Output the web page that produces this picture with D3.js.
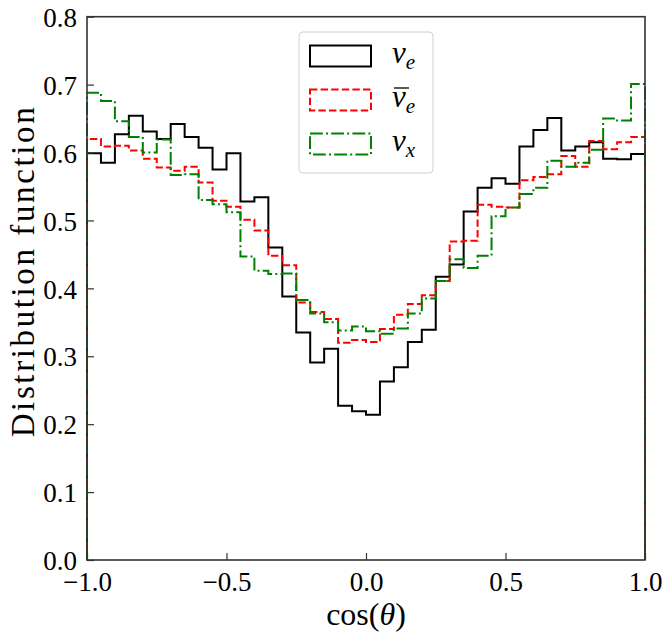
<!DOCTYPE html>
<html>
<head>
<meta charset="utf-8">
<script src="https://cdn.jsdelivr.net/npm/d3@7"></script>
<style>
  body { margin: 0; background: #fff; }
</style>
</head>
<body>
<div id="chart"></div>
<script>
// 40 bins over cos(theta) in [-1, 1]
const binStart = -1;
const binWidth = 0.05;

const nuE = [
  0.599, 0.585, 0.627, 0.654, 0.631, 0.620, 0.642, 0.623, 0.607, 0.575,
  0.599, 0.528, 0.534, 0.460, 0.388, 0.335, 0.291, 0.311, 0.227, 0.219,
  0.214, 0.263, 0.284, 0.321, 0.339, 0.417, 0.435, 0.513, 0.548, 0.562,
  0.554, 0.609, 0.633, 0.651, 0.603, 0.609, 0.615, 0.591, 0.590, 0.598
];
const nuEBar = [
  0.620, 0.609, 0.610, 0.603, 0.591, 0.578, 0.573, 0.579, 0.556, 0.529,
  0.520, 0.501, 0.485, 0.448, 0.434, 0.379, 0.365, 0.355, 0.320, 0.324,
  0.321, 0.340, 0.361, 0.377, 0.390, 0.411, 0.469, 0.470, 0.523, 0.520,
  0.519, 0.559, 0.564, 0.568, 0.595, 0.579, 0.617, 0.605, 0.615, 0.623
];
const nuX = [
  0.688, 0.676, 0.646, 0.623, 0.600, 0.619, 0.567, 0.568, 0.530, 0.524,
  0.512, 0.447, 0.426, 0.421, 0.422, 0.383, 0.363, 0.350, 0.338, 0.344,
  0.337, 0.333, 0.341, 0.363, 0.385, 0.411, 0.443, 0.430, 0.448, 0.506,
  0.519, 0.539, 0.548, 0.588, 0.579, 0.585, 0.604, 0.650, 0.647, 0.701
];

const xTicks = [-1.0, -0.5, 0.0, 0.5, 1.0];
const yTicks = [0.0, 0.1, 0.2, 0.3, 0.4, 0.5, 0.6, 0.7, 0.8];

const series = [
  { name: "nuE", values: nuE, color: "#000000", dash: null },
  { name: "nuEBar", values: nuEBar, color: "#ff0000", dash: "7.4,3.2" },
  { name: "nuX", values: nuX, color: "#008000", dash: "12.8,3.2,2,3.2" }
];

const serif = "Liberation Serif, Times New Roman, Times";

const width = 669, height = 642;
const margin = { top: 16.7, right: 24, bottom: 82, left: 87 };

const svg = d3.select("#chart").append("svg")
  .attr("width", width)
  .attr("height", height);

const x = d3.scaleLinear().domain([-1, 1]).range([margin.left, width - margin.right]);
const y = d3.scaleLinear().domain([0, 0.8]).range([height - margin.bottom, margin.top]);

// step outline like a matplotlib "step" histogram
const line = d3.line()
  .x(d => x(d[0]))
  .y(d => y(d[1]))
  .curve(d3.curveStepAfter);

function stepPoints(values) {
  const pts = [[binStart, 0]];
  values.forEach((v, i) => pts.push([binStart + i * binWidth, v]));
  const end = binStart + values.length * binWidth;
  pts.push([end, values[values.length - 1]]);
  pts.push([end, 0]);
  return pts;
}

svg.append("g")
  .selectAll("path")
  .data(series)
  .enter().append("path")
  .attr("d", d => line(stepPoints(d.values)))
  .attr("fill", "none")
  .attr("stroke", d => d.color)
  .attr("stroke-width", 2)
  .attr("stroke-dasharray", d => d.dash)
  .attr("stroke-linejoin", "miter");

// axes with inward ticks
const xAxis = svg.append("g")
  .attr("transform", `translate(0,${y(0)})`)
  .call(d3.axisBottom(x).tickValues(xTicks).tickSizeInner(-7).tickSizeOuter(0)
    .tickFormat(d => d3.format(".1f")(d).replace("-", "\u2212")));
xAxis.attr("font-family", null).style("font-family", serif).style("font-size", "27px");
xAxis.selectAll("text").attr("dy", null).attr("y", 31).attr("fill", "#000");

const yAxis = svg.append("g")
  .attr("transform", `translate(${x(-1)},0)`)
  .call(d3.axisLeft(y).tickValues(yTicks).tickSizeInner(-7).tickSizeOuter(0)
    .tickFormat(d3.format(".1f")));
yAxis.attr("font-family", null).style("font-family", serif).style("font-size", "27px");
yAxis.selectAll("text").attr("x", -10).attr("dy", "0.36em").attr("fill", "#000");

svg.selectAll(".domain").remove();
svg.selectAll(".tick line").attr("stroke", "#333").attr("stroke-width", 1.2);

// frame
svg.append("rect")
  .attr("x", x(-1)).attr("y", y(0.8))
  .attr("width", x(1) - x(-1)).attr("height", y(0) - y(0.8))
  .attr("fill", "none")
  .attr("stroke", "#333")
  .attr("stroke-width", 1.6);

// axis labels
svg.append("text")
  .attr("x", x(0)).attr("y", 625)
  .attr("text-anchor", "middle")
  .style("font-family", serif)
  .style("font-size", "32px")
  .html('cos(<tspan font-style="italic">θ</tspan>)');

svg.append("text")
  .attr("transform", `translate(34,${(y(0) + y(0.8)) / 2 - 16}) rotate(-90)`)
  .attr("text-anchor", "middle")
  .attr("textLength", 330)
  .attr("lengthAdjust", "spacing")
  .style("font-family", serif)
  .style("font-size", "33px")
  .text("Distribution function");

// legend
const legend = svg.append("g").attr("transform", "translate(299,32)");
legend.append("rect")
  .attr("width", 134).attr("height", 141)
  .attr("rx", 4)
  .attr("fill", "#fff").attr("fill-opacity", 0.8)
  .attr("stroke", "#d0d0d0").attr("stroke-width", 1);

const labels = [
  { base: "ν", sub: "e", bar: false },
  { base: "ν", sub: "e", bar: true },
  { base: "ν", sub: "x", bar: false }
];

series.forEach((s, i) => {
  const cy = 24 + i * 44;
  legend.append("rect")
    .attr("x", 11).attr("y", cy - 10.5)
    .attr("width", 61).attr("height", 21)
    .attr("fill", "none")
    .attr("stroke", s.color)
    .attr("stroke-width", 2)
    .attr("stroke-dasharray", s.dash);
  const t = legend.append("text")
    .attr("x", 93).attr("y", cy + 7)
    .style("font-family", serif)
    .style("font-size", "31px")
    .style("font-style", "italic");
  t.append("tspan").text(labels[i].base);
  t.append("tspan").attr("dy", 6).style("font-size", "21px").text(labels[i].sub);
  if (labels[i].bar) {
    legend.append("line")
      .attr("x1", 95).attr("x2", 110)
      .attr("y1", cy - 12).attr("y2", cy - 12)
      .attr("stroke", "#000").attr("stroke-width", 1.3);
  }
});
</script>
</body>
</html>
